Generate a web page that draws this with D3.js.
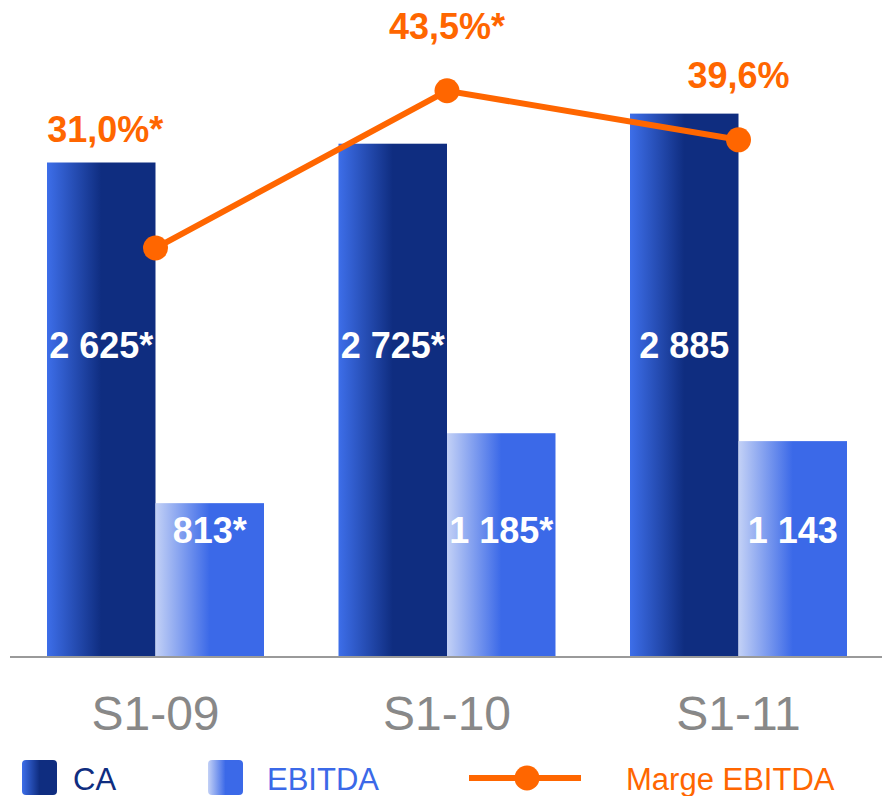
<!DOCTYPE html>
<html>
<head>
    <meta charset="utf-8">
    <title>CA / EBITDA</title>
    <script src="https://cdn.jsdelivr.net/npm/d3@7/dist/d3.min.js"></script>
    <style type="text/css">
        body {
            margin: 0;
            background: #fff;
        }
        svg text {
            font-family: "Liberation Sans", Arial, sans-serif;
        }
    </style>
</head>
<body>
    <div id="chart"></div>
    <script>
        // data
        var categories = ["S1-09", "S1-10", "S1-11"];
        var caValues = [2625, 2725, 2885];
        var ebitdaValues = [813, 1185, 1143];
        var margeValues = [31.0, 43.5, 39.6];
        var caLabels = ["2 625*", "2 725*", "2 885"];
        var ebitdaLabels = ["813*", "1 185*", "1 143"];
        var margeLabels = ["31,0%*", "43,5%*", "39,6%"];
        // where the margin label sits: above the CA bar or above the dot
        var margeLabelAnchor = ["bar", "dot", "dot"];

        var w = 882,
            h = 796,
            baseline = 656;

        var orange = "#ff6600";

        var svg = d3.select("#chart").append("svg")
            .attr("width", w)
            .attr("height", h);

        // gradients
        var defs = svg.append("defs");

        function addGradient(id, from, to) {
            var g = defs.append("linearGradient")
                .attr("id", id)
                .attr("x1", "0%").attr("x2", "100%")
                .attr("y1", "0%").attr("y2", "0%");
            g.append("stop").attr("offset", "0%").attr("stop-color", from);
            g.append("stop").attr("offset", "50%").attr("stop-color", to);
            g.append("stop").attr("offset", "100%").attr("stop-color", to);
        }
        addGradient("gradCA", "#3d6ee9", "#0f2d80");
        addGradient("gradEB", "#c3d1f6", "#3b69e8");

        // scales
        var x0 = d3.scaleBand()
            .domain(categories)
            .range([47, 847])
            .paddingInner(0.2556)
            .paddingOuter(0);

        var x1 = d3.scaleBand()
            .domain(["CA", "EBITDA"])
            .range([0, x0.bandwidth()]);

        var y = d3.scaleLinear()
            .domain([0, 3000])
            .range([baseline, 92]);

        var yMarge = d3.scaleLinear()
            .domain([0, 50])
            .range([638, 9]);

        var groups = svg.selectAll("g.group")
            .data(categories)
            .enter().append("g")
            .attr("class", "group")
            .attr("transform", function(d) {
                return "translate(" + x0(d) + ",0)";
            });

        // CA bars
        groups.append("rect")
            .attr("x", x1("CA"))
            .attr("y", function(d, i) { return y(caValues[i]); })
            .attr("width", x1.bandwidth())
            .attr("height", function(d, i) { return baseline - y(caValues[i]); })
            .attr("fill", "url(#gradCA)");

        // EBITDA bars
        groups.append("rect")
            .attr("x", x1("EBITDA"))
            .attr("y", function(d, i) { return y(ebitdaValues[i]); })
            .attr("width", x1.bandwidth())
            .attr("height", function(d, i) { return baseline - y(ebitdaValues[i]); })
            .attr("fill", "url(#gradEB)");

        // value labels inside bars
        groups.append("text")
            .text(function(d, i) { return caLabels[i]; })
            .attr("x", x1("CA") + x1.bandwidth() / 2)
            .attr("y", y(1585))
            .attr("text-anchor", "middle")
            .attr("font-size", "36px")
            .attr("font-weight", "bold")
            .attr("fill", "white");

        groups.append("text")
            .text(function(d, i) { return ebitdaLabels[i]; })
            .attr("x", x1("EBITDA") + x1.bandwidth() / 2)
            .attr("y", y(600))
            .attr("text-anchor", "middle")
            .attr("font-size", "36px")
            .attr("font-weight", "bold")
            .attr("fill", "white");

        // axis line
        svg.append("line")
            .attr("x1", 10).attr("x2", w)
            .attr("y1", baseline + 1).attr("y2", baseline + 1)
            .attr("stroke", "#9a9a9a")
            .attr("stroke-width", 2);

        // category labels
        svg.selectAll("text.cat")
            .data(categories)
            .enter().append("text")
            .attr("class", "cat")
            .text(function(d) { return d; })
            .attr("x", function(d) { return x0(d) + x0.bandwidth() / 2; })
            .attr("y", 730)
            .attr("text-anchor", "middle")
            .attr("font-size", "48px")
            .attr("fill", "#888888");

        // margin line
        var cx = function(d, i) { return x0(categories[i]) + x0.bandwidth() / 2; };
        var line = d3.line()
            .x(cx)
            .y(function(d) { return yMarge(d); });

        svg.append("path")
            .datum(margeValues)
            .attr("d", line)
            .attr("fill", "none")
            .attr("stroke", orange)
            .attr("stroke-width", 6);

        svg.selectAll("circle.dot")
            .data(margeValues)
            .enter().append("circle")
            .attr("class", "dot")
            .attr("cx", cx)
            .attr("cy", function(d) { return yMarge(d); })
            .attr("r", 12.5)
            .attr("fill", orange);

        svg.selectAll("text.marge")
            .data(margeValues)
            .enter().append("text")
            .attr("class", "marge")
            .text(function(d, i) { return margeLabels[i]; })
            .attr("x", function(d, i) {
                if (margeLabelAnchor[i] == "bar") {
                    return x0(categories[i]) + x1("CA") + x1.bandwidth() / 2 + 4;
                }
                return cx(d, i);
            })
            .attr("y", function(d, i) {
                if (margeLabelAnchor[i] == "bar") {
                    return y(caValues[i]) - 21;
                }
                return yMarge(d) - 52;
            })
            .attr("text-anchor", "middle")
            .attr("font-size", "36px")
            .attr("font-weight", "bold")
            .attr("fill", orange);

        // legend
        var legend = svg.append("g").attr("class", "legend");

        legend.append("rect")
            .attr("x", 22).attr("y", 760)
            .attr("width", 35).attr("height", 35)
            .attr("rx", 4)
            .attr("fill", "url(#gradCA)");
        legend.append("text")
            .text("CA")
            .attr("x", 73).attr("y", 790)
            .attr("font-size", "31px")
            .attr("fill", "#0f2d80");

        legend.append("rect")
            .attr("x", 208).attr("y", 760)
            .attr("width", 35).attr("height", 35)
            .attr("rx", 4)
            .attr("fill", "url(#gradEB)");
        legend.append("text")
            .text("EBITDA")
            .attr("x", 267).attr("y", 790)
            .attr("font-size", "31px")
            .attr("fill", "#3b69e8");

        legend.append("line")
            .attr("x1", 469).attr("x2", 581)
            .attr("y1", 778).attr("y2", 778)
            .attr("stroke", orange)
            .attr("stroke-width", 6);
        legend.append("circle")
            .attr("cx", 527).attr("cy", 778)
            .attr("r", 12.5)
            .attr("fill", orange);
        legend.append("text")
            .text("Marge EBITDA")
            .attr("x", 626).attr("y", 790)
            .attr("font-size", "31px")
            .attr("fill", orange);
    </script>
</body>
</html>
